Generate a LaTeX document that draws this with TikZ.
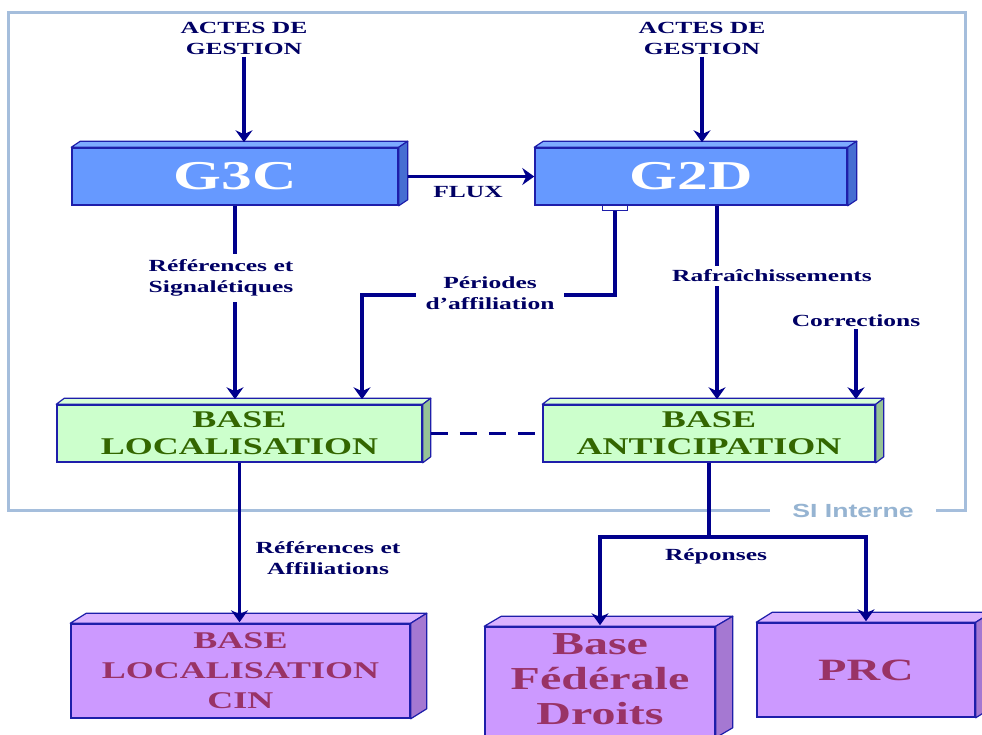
\documentclass[tikz,border=0pt]{standalone}
\usepackage{fontspec}
\setmainfont{Liberation Serif}[FakeStretch=1.5]
\newfontfamily\sifont{Liberation Sans}[FakeStretch=1.4]
\usetikzlibrary{arrows.meta,calc}
\definecolor{navy}{RGB}{0,0,140}
\definecolor{lblc}{RGB}{0,0,100}
\definecolor{bord}{RGB}{30,30,170}
\definecolor{gfill}{RGB}{102,153,255}
\definecolor{gside}{RGB}{70,110,210}
\definecolor{gtop}{RGB}{125,170,255}
\definecolor{grfill}{RGB}{204,255,204}
\definecolor{grside}{RGB}{150,195,150}
\definecolor{grtop}{RGB}{215,255,215}
\definecolor{grtext}{RGB}{51,102,0}
\definecolor{pfill}{RGB}{204,153,255}
\definecolor{pside}{RGB}{165,120,210}
\definecolor{ptop}{RGB}{218,178,255}
\definecolor{ptext}{RGB}{153,51,102}
\definecolor{framec}{RGB}{165,190,220}
\definecolor{sitext}{RGB}{150,180,210}
\newcommand\cubefaces[5]{%
  \filldraw[draw=bord,line width=1.2pt,fill=#4,line join=round]
    (#1.north west) -- ++(#2,-#3) -- ($(#1.north east)+(#2,-#3)$) -- (#1.north east) -- cycle;
  \filldraw[draw=bord,line width=1.2pt,fill=#5,line join=round]
    (#1.north east) -- ++(#2,-#3) -- ($(#1.south east)+(#2,-#3)$) -- (#1.south east) -- cycle;
}
\tikzset{
  gbox/.style={draw=bord, line width=1.5pt, fill=gfill, text=white, inner sep=0pt,
    font=\bfseries\fontsize{41}{41}\selectfont},
  grbox/.style={draw=bord, line width=1.5pt, fill=grfill, text=grtext, inner sep=0pt, align=center,
    font=\bfseries\fontsize{24}{27}\selectfont},
  pbox/.style={draw=bord, line width=1.5pt, fill=pfill, text=ptext, inner sep=0pt, align=center,
    font=\bfseries\fontsize{24}{30}\selectfont},
  pbig/.style={font=\bfseries\fontsize{32}{35}\selectfont},
  lbl/.style={text=lblc, align=center, inner sep=2pt, font=\bfseries\fontsize{17}{20.5}\selectfont},
  lblbg/.style={lbl, fill=white, inner xsep=6pt, inner ysep=6pt},
  conn/.style={draw=navy, line width=3.5pt},
  arr/.style={conn, -{Stealth[length=12pt,width=17pt,inset=4pt]}},
}
\begin{document}
\begin{tikzpicture}[x=1pt,y=-1pt]
\useasboundingbox (0,0) rectangle (982,734);
\clip (0,0) rectangle (982,734);

% SI Interne frame
\draw[framec, line width=3pt] (8,12) rectangle (965,510);
\node[fill=white, text=sitext, inner xsep=22pt, inner ysep=3pt,
  font=\sifont\bfseries\fontsize{19}{19}\selectfont] (si) at (853,511) {SI Interne};

% boxes
\node[gbox, minimum width=326, minimum height=57] (g3c) at (235,176.5) {G3C};
\node[gbox, minimum width=312, minimum height=57] (g2d) at (691,176.5) {G2D};
\node[grbox, minimum width=365, minimum height=57] (bl) at (239.5,433.5) {BASE\\LOCALISATION};
\node[grbox, minimum width=332, minimum height=57] (ba) at (709,433.5) {BASE\\ANTICIPATION};
\node[pbox, minimum width=339, minimum height=94] (cin) at (240.5,671) {BASE\\LOCALISATION\\CIN};
\node[pbox, pbig, minimum width=230, minimum height=110, text depth=5pt] (bfd) at (600,682) {Base\\Fédérale\\Droits};
\node[pbox, font=\bfseries\fontsize{31}{31}\selectfont, minimum width=218, minimum height=94] (prc) at (866,670) {PRC};

\cubefaces{g3c}{9}{6}{gtop}{gside}
\cubefaces{g2d}{9}{6}{gtop}{gside}
\cubefaces{bl}{8}{6}{grtop}{grside}
\cubefaces{ba}{8}{6}{grtop}{grside}
\cubefaces{cin}{16}{10}{ptop}{pside}
\cubefaces{bfd}{17}{10}{ptop}{pside}
\cubefaces{prc}{16}{10}{ptop}{pside}

% top labels and arrows
\node[lbl] (a1) at (244,38.5) {ACTES DE\\GESTION};
\node[lbl] (a2) at (702,38.5) {ACTES DE\\GESTION};
\draw[arr, shorten >=5pt] (a1.south) -- (a1.south |- g3c.north);
\draw[arr, shorten >=5pt] (a2.south) -- (a2.south |- g2d.north);

% FLUX
\draw[arr] ([xshift=9pt]g3c.east) -- (g2d.west);
\node[lbl] (flux) at (468,192) {FLUX};

% G3C -> BASE LOCALISATION
\draw[arr, shorten >=5pt] (g3c.south) -- (g3c.south |- bl.north);
\node[lblbg] (rs) at (221,278) {Références et\\Signalétiques};

% G2D -> BASE LOCALISATION (periodes)
\coordinate (p1) at (615,295);
\coordinate (p2) at (362,295);
\draw[bord, fill=white, line width=1pt] (602,205) rectangle (627,210);
\draw[arr, shorten >=5pt] (p1 |- g2d.south) ++(0,5) -- (p1) -- (p2) -- (p2 |- bl.north);
\node[lblbg, inner xsep=10pt] (per) at (490,293) {Périodes\\d’affiliation};

% G2D -> BASE ANTICIPATION
\coordinate (r1) at (717,0);
\draw[arr, shorten >=5pt] (r1 |- g2d.south) -- (r1 |- ba.north);
\node[lblbg, inner ysep=4pt] (raf) at (772,276) {Rafraîchissements};

% Corrections
\node[lbl] (cor) at (856,321) {Corrections};
\draw[arr, shorten >=5pt] (cor.south) -- (cor.south |- ba.north);

% dashed link
\draw[conn, line width=3pt, dash pattern=on 17pt off 12pt] ([xshift=8pt]bl.east) -- (ba.west);

% BASE LOCALISATION -> CIN
\draw[arr, shorten >=1pt] (bl.south) -- (bl.south |- cin.north);
\node[lbl] (ra) at (328,558) {Références et\\Affiliations};

% BASE ANTICIPATION -> Base Federale, PRC
\coordinate (sp) at (709,537);
\draw[conn] (ba.south) -- (ba.south |- sp);
\draw[arr, shorten >=1pt] ([xshift=1.75pt]ba.south |- sp) -| (bfd.north);
\draw[arr, shorten >=1pt] ([xshift=-1.75pt]ba.south |- sp) -| (prc.north);
\node[lbl] (rep) at (716,556) {Réponses};
\end{tikzpicture}
\end{document}
